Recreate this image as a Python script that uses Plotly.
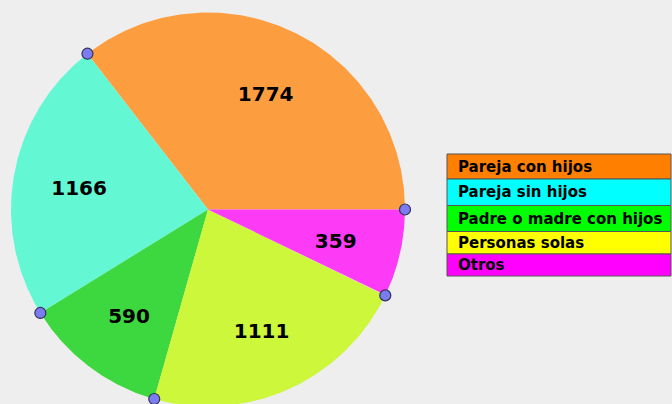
import numpy as np
import plotly.graph_objects as go

categories = ["Pareja con hijos", "Pareja sin hijos", "Padre o madre con hijos", "Personas solas", "Otros"]
values = [1774, 1166, 590, 1111, 359]
slice_colors = ["#FC9E3F", "#63F7D3", "#3DD73F", "#CCF73B", "#FD3BF7"]
legend_colors = ["#FF8000", "#00FFFF", "#00FF00", "#FFFF00", "#FF00FF"]

W, H = 672, 404
cx, cy, r = 208, 194.5, 197
label_frac, label_drop = 0.665, 4

fig = go.Figure()
total = sum(values)
cum = np.concatenate([[0], np.cumsum(values)]) / total * 2 * np.pi

for i, (cat, v) in enumerate(zip(categories, values)):
    a0, a1 = cum[i], cum[i + 1]
    t = np.linspace(a0, a1, 200)
    xs = np.concatenate([[cx], cx + r * np.cos(t), [cx]])
    ys = np.concatenate([[cy], cy + r * np.sin(t), [cy]])
    fig.add_trace(go.Scatter(x=xs, y=ys, fill="toself", mode="lines",
                             line=dict(width=0, color=slice_colors[i]),
                             fillcolor=slice_colors[i], hoverinfo="skip", showlegend=False))
    am = (a0 + a1) / 2
    fig.add_trace(go.Scatter(x=[cx + label_frac * r * np.cos(am)],
                             y=[cy + label_frac * r * np.sin(am) - label_drop],
                             mode="text", text=[str(v)], texttemplate="<b>%{text}</b>",
                             textfont=dict(family="DejaVu Sans", size=20, color="black"),
                             hoverinfo="skip", showlegend=False))

# boundary points
fig.add_trace(go.Scatter(x=cx + r * np.cos(cum[:-1]), y=cy + r * np.sin(cum[:-1]),
                         mode="markers",
                         marker=dict(size=11, color="#7B7BF2", line=dict(width=1.2, color="#333355")),
                         hoverinfo="skip", showlegend=False))

# legend box
row_edges = [154, 179, 205.5, 231.5, 254, 276]
lx0, lx1 = 447, 671
for i, cat in enumerate(categories):
    y0, y1 = H - row_edges[i + 1], H - row_edges[i]
    fig.add_shape(type="rect", x0=lx0, x1=lx1, y0=y0, y1=y1, xref="x", yref="y",
                  fillcolor=legend_colors[i], line=dict(color="#555555", width=1))
    fig.add_annotation(x=lx0 + 9, y=(y0 + y1) / 2, text="<b>" + cat + "</b>", xref="x", yref="y",
                       showarrow=False, xanchor="left", yanchor="middle",
                       font=dict(family="DejaVu Sans", size=15, color="black"))

fig.update_layout(width=W, height=H, margin=dict(l=0, r=0, t=0, b=0),
                  paper_bgcolor="#EEEEEE", plot_bgcolor="#EEEEEE",
                  xaxis=dict(range=[0, W], visible=False, fixedrange=True),
                  yaxis=dict(range=[0, H], visible=False, fixedrange=True),
                  showlegend=False)
fig.write_html("out.html", config={"displayModeBar": False},
               post_script="document.body.style.margin='0px';document.body.style.background='#EEEEEE';")
